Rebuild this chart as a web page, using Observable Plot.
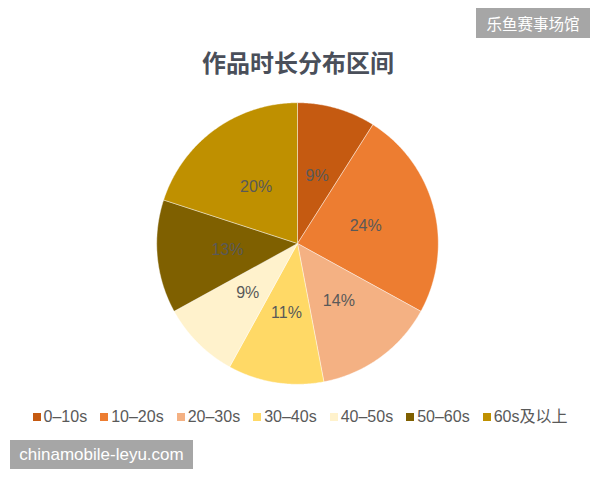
<!DOCTYPE html>
<html>
<head>
<meta charset="utf-8">
<script src="https://cdn.jsdelivr.net/npm/d3@7"></script>
<script src="https://cdn.jsdelivr.net/npm/@observablehq/plot@0.6"></script>
<style>
  html, body { margin: 0; padding: 0; background: #fff; }
  #wrap { position: relative; width: 600px; height: 480px; overflow: hidden; font-family: "Liberation Sans", Arial, "Noto Sans CJK SC", sans-serif; }
  #title { position: absolute; left: 0; width: 596px; top: 48px; text-align: center; font-family: "Noto Sans CJK SC", sans-serif; font-weight: bold; font-size: 24px; line-height: 28px; color: #4a4f5a; }
  #chart { position: absolute; left: 152px; top: 98px; }
  #legend { position: absolute; left: 0; width: 600px; top: 406px; display: flex; justify-content: center; gap: 13px; font-size: 16px; line-height: 22px; color: #595959; padding-left: 0px; }
  #legend .item { display: flex; align-items: center; gap: 3px; white-space: nowrap; }
  #legend .sw { width: 8px; height: 8px; display: inline-block; }
  #legend .lbl { font-family: "Liberation Sans", Arial, "Noto Sans CJK SC", sans-serif; }
  .badge { position: absolute; background: #a6a6a6; color: #fff; white-space: nowrap; }
  #badgeTop { left: 476px; top: 8px; width: 114px; height: 30px; font-family: "Noto Sans CJK SC", sans-serif; font-size: 15.5px; line-height: 30px; text-align: center; }
  #badgeBot { left: 10px; top: 440px; width: 183px; height: 29px; font-size: 17px; line-height: 29px; text-align: center; }
</style>
</head>
<body>
<div id="wrap">
  <div id="title"></div>
  <div id="chart"></div>
  <div id="legend"></div>
  <div class="badge" id="badgeTop"></div>
  <div class="badge" id="badgeBot"></div>
</div>
<script>
const titleText = "作品时长分布区间";
const categories = ["0–10s", "10–20s", "20–30s", "30–40s", "40–50s", "50–60s", "60s及以上"];
const values = [9, 24, 14, 11, 9, 13, 20];
const colors = ["#C55A11", "#ED7D31", "#F4B183", "#FFD966", "#FFF2CC", "#7F6000", "#BF9000"];
const badgeTopText = "乐鱼赛事场馆";
const badgeBotText = "chinamobile-leyu.com";

document.getElementById("title").textContent = titleText;
document.getElementById("badgeTop").textContent = badgeTopText;
document.getElementById("badgeBot").textContent = badgeBotText;

// pie geometry from the values
const total = d3.sum(values);
const arcs = d3.pie().sort(null).value(d => d)(values);
const outline = [];
const labels = [];
arcs.forEach((a, i) => {
  const cat = categories[i];
  outline.push({cat, x: 0, y: 0});
  const steps = Math.max(2, Math.ceil((a.endAngle - a.startAngle) / (Math.PI / 360)));
  for (let k = 0; k <= steps; k++) {
    const t = a.startAngle + (a.endAngle - a.startAngle) * k / steps;
    outline.push({cat, x: Math.sin(t), y: Math.cos(t)});
  }
  outline.push({cat, x: 0, y: 0});
  const m = (a.startAngle + a.endAngle) / 2;
  labels.push({cat, x: 0.5 * Math.sin(m), y: 0.5 * Math.cos(m), text: Math.round(values[i] / total * 100) + "%"});
});

const plot = Plot.plot({
  width: 290,
  height: 290,
  margin: 0,
  x: {domain: [-1.03, 1.03], axis: null},
  y: {domain: [-1.03, 1.03], axis: null},
  color: {domain: categories, range: colors},
  style: {background: "transparent"},
  marks: [
    Plot.line(outline, {x: "x", y: "y", z: "cat", fill: "cat", stroke: "#ffffff", strokeWidth: 0.6, strokeOpacity: 0.7, curve: "linear"}),
    Plot.text(labels, {x: "x", y: "y", text: "text", fill: "#595959", fontSize: 16, fontFamily: "Liberation Sans, Arial, sans-serif"})
  ]
});
document.getElementById("chart").appendChild(plot);

const legend = document.getElementById("legend");
categories.forEach((c, i) => {
  const it = document.createElement("div");
  it.className = "item";
  const sw = document.createElement("span");
  sw.className = "sw";
  sw.style.background = colors[i];
  const lb = document.createElement("span");
  lb.className = "lbl";
  lb.textContent = c;
  it.appendChild(sw);
  it.appendChild(lb);
  legend.appendChild(it);
});
</script>
</body>
</html>
